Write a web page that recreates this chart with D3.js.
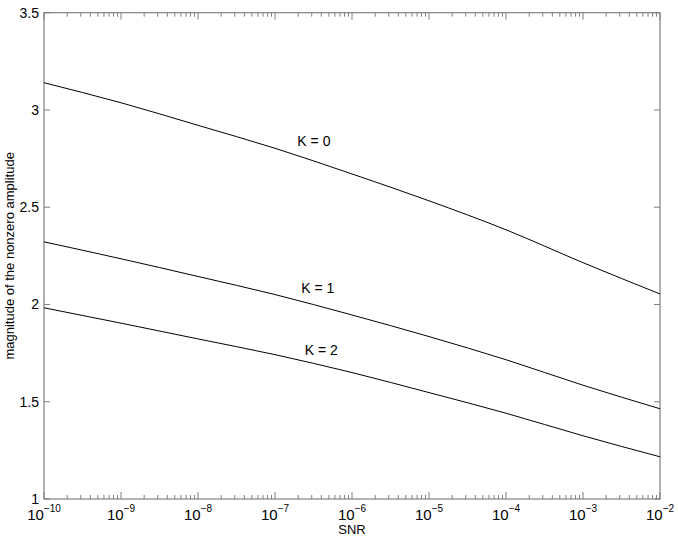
<!DOCTYPE html>
<html><head><meta charset="utf-8">
<script src="https://cdn.jsdelivr.net/npm/d3@7"></script>
<style>
html,body{margin:0;padding:0;background:#fff;}
svg text{font-family:"Liberation Sans",Arial,Helvetica,sans-serif;}
</style></head>
<body><svg id="chart" width="678" height="540"></svg>
<script>
// SNR values (decades)
const snr = [1e-10,1e-9,1e-8,1e-7,1e-6,1e-5,1e-4,1e-3,1e-2];
const k0 = [3.140,3.037,2.921,2.803,2.671,2.533,2.384,2.215,2.054];
const k1 = [2.322,2.235,2.144,2.051,1.946,1.835,1.716,1.585,1.464];
const k2 = [1.983,1.904,1.823,1.742,1.650,1.547,1.441,1.325,1.217];
const seriesNames = ["K = 0","K = 1","K = 2"];
const labelX = [3.2e-7, 3.6e-7, 4.0e-7];
const labelY = [2.815, 2.060, 1.741];
const yTicks = [1,1.5,2,2.5,3,3.5];
const xTickExps = [-10,-9,-8,-7,-6,-5,-4,-3,-2];
const xLabel = "SNR";
const yLabel = "magnitude of the nonzero amplitude";

const W=678,H=540;
const m={l:44,r:18,t:12.7,b:41};
const svg=d3.select("#chart");
const x=d3.scaleLog().domain([1e-10,1e-2]).range([m.l,W-m.r]);
const y=d3.scaleLinear().domain([1,3.5]).range([H-m.b,m.t]);
const axisColor="#808080";

const minor=[];
for(let e=-10;e<-2;e++){for(let k=2;k<=9;k++)minor.push(k*Math.pow(10,e));}
const g=svg.append("g");
minor.forEach(v=>{
  g.append("line").attr("x1",x(v)).attr("x2",x(v)).attr("y1",y(1)).attr("y2",y(1)-4).attr("stroke",axisColor);
  g.append("line").attr("x1",x(v)).attr("x2",x(v)).attr("y1",y(3.5)).attr("y2",y(3.5)+4).attr("stroke",axisColor);
});
xTickExps.forEach(e=>{
  const v=Math.pow(10,e);
  g.append("line").attr("x1",x(v)).attr("x2",x(v)).attr("y1",y(1)).attr("y2",y(1)-7).attr("stroke",axisColor);
  g.append("line").attr("x1",x(v)).attr("x2",x(v)).attr("y1",y(3.5)).attr("y2",y(3.5)+7).attr("stroke",axisColor);
  const t=g.append("text").attr("x",x(v)).attr("y",520).attr("text-anchor","middle").attr("font-size",15).attr("fill","#000");
  t.append("tspan").text("10");
  t.append("tspan").attr("font-size",10).attr("dy",-8).text("\u2212"+Math.abs(e));
});
yTicks.forEach(v=>{
  g.append("line").attr("x1",x(1e-10)).attr("x2",x(1e-10)+6).attr("y1",y(v)).attr("y2",y(v)).attr("stroke",axisColor);
  g.append("line").attr("x1",x(1e-2)).attr("x2",x(1e-2)-6).attr("y1",y(v)).attr("y2",y(v)).attr("stroke",axisColor);
  g.append("text").attr("x",x(1e-10)-5).attr("y",y(v)+5).attr("text-anchor","end").attr("font-size",14).attr("fill","#000").text(v);
});
svg.append("rect").attr("x",x(1e-10)).attr("y",y(3.5)).attr("width",x(1e-2)-x(1e-10)).attr("height",y(1)-y(3.5))
  .attr("fill","none").attr("stroke",axisColor).attr("stroke-width",1.2);

const line=d3.line().x((d,i)=>x(snr[i])).y(d=>y(d)).curve(d3.curveMonotoneX);
[k0,k1,k2].forEach((s,i)=>{
  svg.append("path").attr("d",line(s)).attr("fill","none").attr("stroke","#000").attr("stroke-width",1);
  svg.append("text").attr("x",x(labelX[i])).attr("y",y(labelY[i])).attr("text-anchor","middle").attr("font-size",14).attr("fill","#000").text(seriesNames[i]);
});
svg.append("text").attr("x",(x(1e-10)+x(1e-2))/2).attr("y",534).attr("text-anchor","middle").attr("font-size",13).text(xLabel);
svg.append("text").attr("transform",`translate(14,${(y(1)+y(3.5))/2}) rotate(-90)`).attr("text-anchor","middle").attr("font-size",13).text(yLabel);
</script></body></html>
